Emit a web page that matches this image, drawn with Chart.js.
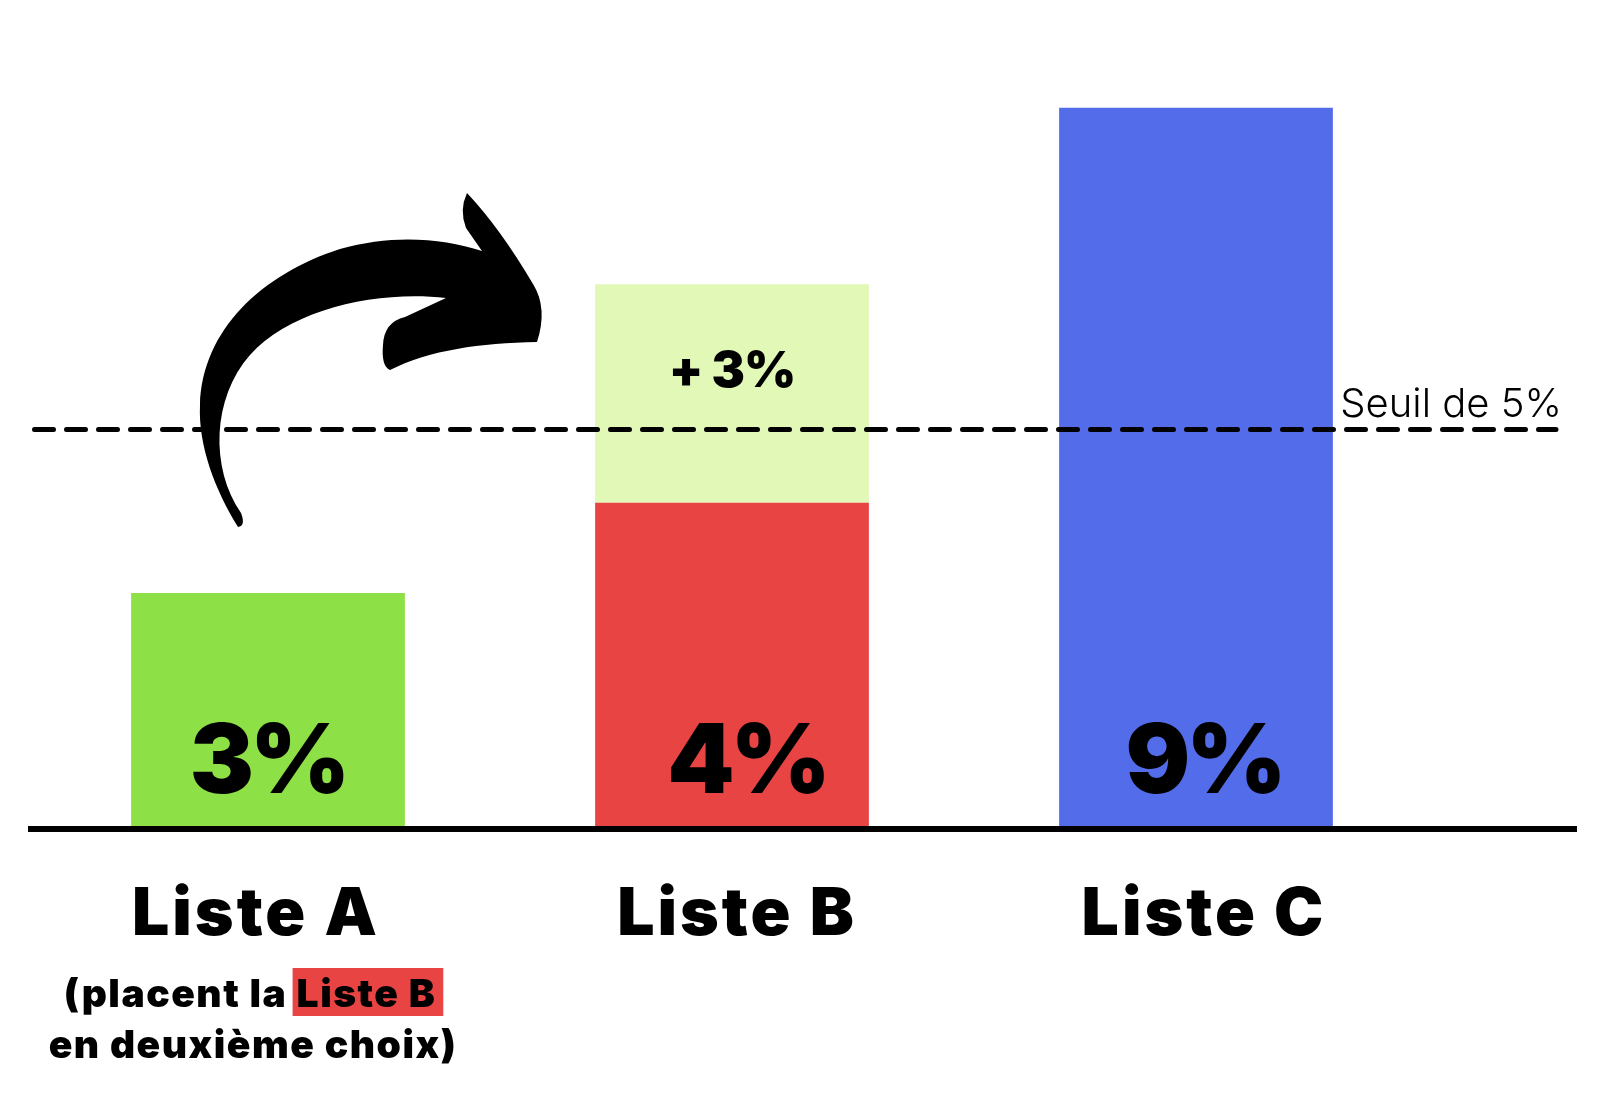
<!DOCTYPE html>
<html>
<head>
<meta charset="utf-8">
<script src="https://cdn.jsdelivr.net/npm/chart.js@4"></script>
<style>
  html, body { margin: 0; padding: 0; background: #ffffff; }
  #c { display: block; }
</style>
</head>
<body>
<canvas id="c" width="1600" height="1100"></canvas>
<script>
// ---- data ----
const categories = ['Liste A', 'Liste B', 'Liste C'];
const firstChoice = [2.92, 4.05, 9.0];
const transfer = [0, 2.74, 0];
const valueLabels = ['3%', '4%', '9%'];
const transferLabels = ['', '+ 3%', ''];
const threshold = 4.97;
const thresholdLabel = 'Seuil de 5%';
const noteLine1 = '(placent la ';
const noteHighlight = 'Liste B';
const noteLine2 = 'en deuxième choix)';

// ---- styles ----
const barColors = ['#8DE045', '#E94444', '#536CE9'];
const transferColor = '#E2F8B6';
const highlightColor = '#E94444';
const valueLabelShift = [0, 15, 8];
const categoryLabelShift = [-12, 5, 8];
const HEAVY = 'Inter';
const LIGHT = 'Inter';

function drawArrow(ctx) {
  ctx.save();
  ctx.fillStyle = '#000';
  ctx.beginPath();
  ctx.moveTo(238, 527);
  ctx.bezierCurveTo(215, 490, 198, 445, 200, 405);
  ctx.bezierCurveTo(202, 330, 262, 274, 340, 249);
  ctx.bezierCurveTo(392, 234, 442, 238, 482, 251);
  ctx.lineTo(466, 228);
  ctx.quadraticCurveTo(459, 210, 467, 193);
  ctx.quadraticCurveTo(500, 228, 533, 284);
  ctx.quadraticCurveTo(548, 308, 537, 342);
  ctx.bezierCurveTo(480, 343, 430, 350, 390, 370);
  ctx.quadraticCurveTo(381, 366, 383, 345);
  ctx.quadraticCurveTo(384, 322, 405, 317);
  ctx.lineTo(446, 298);
  ctx.bezierCurveTo(380, 290, 292, 308, 250, 355);
  ctx.bezierCurveTo(212, 398, 210, 468, 241, 513);
  ctx.quadraticCurveTo(246, 526, 238, 527);
  ctx.closePath();
  ctx.fill();
  ctx.restore();
}

const overlay = {
  id: 'overlay',
  afterDatasetsDraw(chart) {
    const ctx = chart.ctx;
    const xs = chart.scales.x;
    const ys = chart.scales.y;
    const y0 = ys.getPixelForValue(0);
    const ty = ys.getPixelForValue(threshold);

    ctx.save();
    // threshold dashed line
    ctx.strokeStyle = '#000';
    ctx.lineWidth = 5;
    ctx.lineCap = 'round';
    ctx.setLineDash([19, 13]);
    ctx.beginPath();
    ctx.moveTo(34.5, ty);
    ctx.lineTo(1556, ty);
    ctx.stroke();
    ctx.setLineDash([]);

    // threshold label
    ctx.fillStyle = '#000';
    ctx.font = '300 40px ' + LIGHT;
    ctx.letterSpacing = '0px';
    ctx.textAlign = 'right';
    ctx.textBaseline = 'alphabetic';
    ctx.fillText(thresholdLabel, 1562, ty - 12);

    // baseline
    ctx.fillRect(28, y0, 1577 - 28, 6);

    // value labels inside bars
    const meta0 = chart.getDatasetMeta(0);
    ctx.textAlign = 'center';
    ctx.font = '900 96px ' + HEAVY;
    ctx.letterSpacing = '-4px';
    meta0.data.forEach((el, i) => {
      ctx.fillText(valueLabels[i], el.x + valueLabelShift[i], el.base - 33);
    });

    // transfer label
    const meta1 = chart.getDatasetMeta(1);
    ctx.font = '900 50px ' + HEAVY;
    ctx.letterSpacing = '-1px';
    meta1.data.forEach((el, i) => {
      if (transferLabels[i]) ctx.fillText(transferLabels[i], el.x, el.y + 103);
    });

    // category labels
    ctx.font = '900 66px ' + HEAVY;
    ctx.letterSpacing = '3px';
    categories.forEach((c, i) => {
      const cx = xs.getPixelForValue(i);
      ctx.fillText(c, cx + categoryLabelShift[i], 935);
    });

    // note under Liste A
    const ncx = xs.getPixelForValue(0) - 18;
    ctx.font = '900 39px ' + HEAVY;
    ctx.letterSpacing = '1.5px';
    const w1 = ctx.measureText(noteLine1).width;
    const w2 = ctx.measureText(noteHighlight).width;
    const startX = ncx - (w1 + w2) / 2;
    ctx.fillStyle = highlightColor;
    ctx.fillRect(startX + w1 - 4, 968, w2 + 11, 48);
    ctx.fillStyle = '#000';
    ctx.textAlign = 'left';
    ctx.fillText(noteLine1, startX, 1007);
    ctx.fillText(noteHighlight, startX + w1, 1007);
    ctx.textAlign = 'center';
    ctx.fillText(noteLine2, ncx + 3, 1058);

    ctx.restore();

    drawArrow(ctx);
  }
};

new Chart(document.getElementById('c'), {
  type: 'bar',
  data: {
    labels: categories,
    datasets: [
      { label: 'Premier choix', data: firstChoice, backgroundColor: barColors, borderWidth: 0 },
      { label: 'Report', data: transfer, backgroundColor: transferColor, borderWidth: 0 }
    ]
  },
  options: {
    responsive: false,
    animation: false,
    layout: { padding: { top: 28, bottom: 274, left: 36, right: 172 } },
    datasets: { bar: { categoryPercentage: 1, barPercentage: 0.59 } },
    scales: {
      x: { stacked: true, display: false, grid: { display: false } },
      y: { stacked: true, display: false, min: 0, max: 10, grid: { display: false } }
    },
    plugins: { legend: { display: false }, tooltip: { enabled: false } }
  },
  plugins: [overlay]
});
</script>
</body>
</html>
